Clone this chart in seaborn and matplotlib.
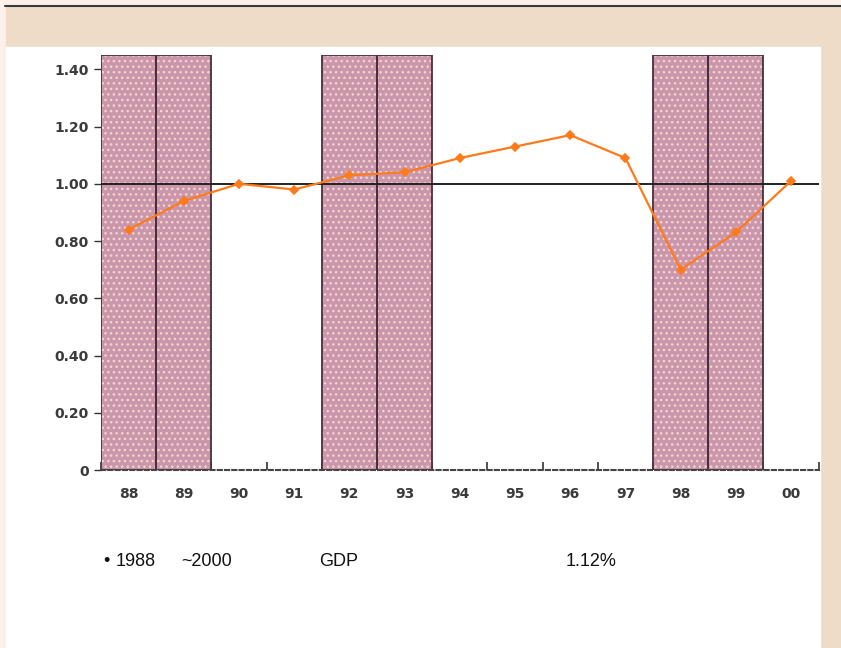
import numpy as np
import pandas as pd
import seaborn as sns
import matplotlib.pyplot as plt
from matplotlib.patches import Rectangle
from matplotlib.ticker import FixedLocator, FuncFormatter

years = ['88', '89', '90', '91', '92', '93', '94', '95', '96', '97', '98', '99', '00']
ratio = [0.84, 0.94, 1.00, 0.98, 1.03, 1.04, 1.09, 1.13, 1.17, 1.09, 0.70, 0.83, 1.01]
shaded = ['88', '89', '92', '93', '98', '99']
y_ticks = [0, 0.2, 0.4, 0.6, 0.8, 1.0, 1.2, 1.4]
y_top = 1.45

sns.set_theme(style='white')
plt.rcParams['font.family'] = ['DejaVu Sans']
plt.rcParams['hatch.linewidth'] = 1.0

line_df = pd.DataFrame({'year': years, 'ratio': ratio})
band_df = pd.DataFrame({'year': shaded, 'top': [y_top] * len(shaded)})

fig = plt.figure(figsize=(8.41, 6.48), dpi=100)
fig.patch.set_facecolor('#EEDCC8')
# page decoration
fig.add_artist(Rectangle((0, 0), 1, 1, transform=fig.transFigure, color='#FBF1EA', zorder=-3))
fig.add_artist(Rectangle((6 / 841, 0), 1, 1 - 6 / 648, transform=fig.transFigure, color='#EEDCC8', zorder=-2))
fig.add_artist(Rectangle((6 / 841, 0), 814 / 841, 601 / 648, transform=fig.transFigure, color='white', zorder=-1))
fig.add_artist(plt.Line2D([5 / 841, 1], [1 - 5.5 / 648, 1 - 5.5 / 648], transform=fig.transFigure,
                          color='#3a3a3a', lw=1.5))

ax = fig.add_axes([101 / 841, 178 / 648, 717.6 / 841, 415 / 648])
ax.set_facecolor('none')

# recession bands: dotted fill, then dark outline
sns.barplot(data=band_df, x='year', y='top', order=years, width=1.0, color='#CA96AC',
            saturation=1, edgecolor='#F6D6CC', linewidth=0, hatch='...', ax=ax, zorder=1)
sns.barplot(data=band_df, x='year', y='top', order=years, width=1.0, fill=False,
            edgecolor='#4a2e3c', linewidth=1.3, ax=ax, zorder=2)

ax.axhline(1.0, color='#222222', lw=1.4, zorder=3)

sns.pointplot(data=line_df, x='year', y='ratio', order=years, color='#FF7A1A',
              marker='D', markersize=4.5, linewidth=1.6, ax=ax, zorder=4)

ax.set_xlim(-0.5, len(years) - 0.5)
ax.set_ylim(0, y_top)
ax.set_xlabel('')
ax.set_ylabel('')

for side in ['top', 'right', 'left']:
    ax.spines[side].set_visible(False)
ax.spines['bottom'].set_color('#444444')
ax.spines['bottom'].set_linestyle((0, (2.0, 1.5)))
ax.spines['bottom'].set_linewidth(1.5)

ax.yaxis.set_major_locator(FixedLocator(y_ticks))
ax.yaxis.set_major_formatter(FuncFormatter(lambda v, p: '0' if v == 0 else f'{v:.2f}'))
ax.tick_params(axis='y', left=True, length=5, width=1, color='#333333', pad=4,
               labelsize=10, labelcolor='#3a3a3a')
ax.tick_params(axis='x', bottom=False, length=0, pad=12, labelsize=10, labelcolor='#3a3a3a')
ax.xaxis.set_minor_locator(FixedLocator(np.arange(-0.5, len(years), 1.0)))
ax.tick_params(axis='x', which='minor', bottom=True, direction='in', length=6, width=1.2, color='#333333')
for lab in ax.get_xticklabels() + ax.get_yticklabels():
    lab.set_fontweight('bold')

txt_y = 1 - 561 / 648
note_font = dict(family='Liberation Sans', fontsize=13, color='#111111', va='center')
fig.text(103 / 841, txt_y, '\u2022', **note_font)
fig.text(116 / 841, txt_y, '1988', **note_font)
fig.text(181 / 841, txt_y, '~2000', **note_font)
fig.text(319 / 841, txt_y, 'GDP', **note_font)
fig.text(566 / 841, txt_y, '1.12%', **note_font)

fig.savefig('out.png', dpi=100, facecolor=fig.get_facecolor())
